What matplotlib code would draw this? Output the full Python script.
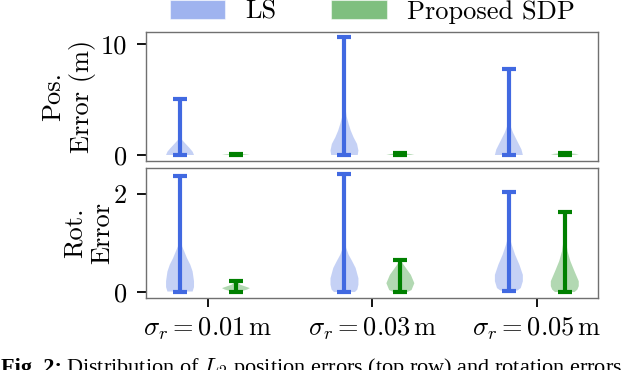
import matplotlib
matplotlib.use("Agg")
import matplotlib.pyplot as plt
from matplotlib.patches import Patch
import numpy as np

plt.rcParams['font.family'] = ['cmr10', 'DejaVu Serif']
plt.rcParams['mathtext.fontset'] = 'cm'
plt.rcParams['axes.formatter.use_mathtext'] = True
plt.rcParams['axes.unicode_minus'] = False

# ---------------- data ----------------
categories = [r'$\sigma_r = 0.01\,\mathrm{m}$', r'$\sigma_r = 0.03\,\mathrm{m}$', r'$\sigma_r = 0.05\,\mathrm{m}$']
series_names = ['LS', 'Proposed SDP']

# Position error (m): min / max of each violin, and density profile (value, relative width)
pos_ls_min = [0.0, 0.0, 0.0]
pos_ls_max = [5.07, 10.66, 7.72]
pos_ls_coords = [
    [0.0, 0.3, 0.6, 1.05, 1.4, 2.0, 3.0, 4.0, 5.07],
    [0.0, 0.4, 1.0, 1.6, 2.2, 2.8, 3.5, 4.2, 6.0, 8.0, 10.66],
    [0.0, 0.5, 1.0, 1.5, 2.0, 2.6, 3.5, 5.0, 7.72],
]
pos_ls_dens = [
    [1.0, 0.9, 0.7, 0.37, 0.12, 0.05, 0.03, 0.02, 0.0],
    [0.95, 1.0, 0.9, 0.65, 0.45, 0.3, 0.15, 0.08, 0.03, 0.01, 0.0],
    [1.0, 0.9, 0.7, 0.5, 0.3, 0.12, 0.04, 0.02, 0.0],
]
pos_sdp_min = [0.0, 0.0, 0.0]
pos_sdp_max = [0.12, 0.18, 0.2]
pos_sdp_coords = [
    [0.0, 0.03, 0.06, 0.09, 0.12],
    [0.0, 0.04, 0.08, 0.13, 0.18],
    [0.0, 0.05, 0.1, 0.15, 0.2],
]
pos_sdp_dens = [
    [0.6, 1.0, 0.8, 0.4, 0.1],
    [0.6, 1.0, 0.8, 0.4, 0.1],
    [0.6, 1.0, 0.8, 0.4, 0.1],
]

# Rotation error
rot_ls_min = [0.01, 0.0, 0.03]
rot_ls_max = [2.37, 2.41, 2.05]
rot_ls_coords = [
    [0.01, 0.1, 0.22, 0.42, 0.56, 0.69, 0.83, 0.93, 1.17, 1.86, 2.37],
    [0.0, 0.05, 0.15, 0.28, 0.49, 0.63, 0.76, 0.9, 1.17, 1.8, 2.41],
    [0.03, 0.08, 0.22, 0.35, 0.56, 0.76, 0.97, 1.1, 1.5, 2.05],
]
rot_ls_dens = [
    [0.9, 1.0, 1.0, 0.9, 0.73, 0.5, 0.3, 0.15, 0.07, 0.03, 0.0],
    [0.75, 0.92, 1.0, 1.0, 0.8, 0.55, 0.3, 0.12, 0.05, 0.02, 0.0],
    [0.6, 0.85, 1.0, 1.0, 0.75, 0.45, 0.2, 0.08, 0.03, 0.0],
]
rot_sdp_min = [0.01, 0.0, 0.0]
rot_sdp_max = [0.22, 0.66, 1.63]
rot_sdp_coords = [
    [0.01, 0.05, 0.08, 0.11, 0.15, 0.22],
    [0.0, 0.04, 0.18, 0.35, 0.49, 0.59, 0.66],
    [0.0, 0.05, 0.12, 0.22, 0.42, 0.63, 0.83, 1.03, 1.3, 1.63],
]
rot_sdp_dens = [
    [0.3, 0.8, 1.0, 0.7, 0.3, 0.02],
    [0.5, 0.8, 1.0, 0.75, 0.4, 0.15, 0.03],
    [0.7, 0.9, 1.0, 1.0, 0.7, 0.4, 0.2, 0.1, 0.05, 0.0],
]

ls_color = '#4169E1'
sdp_color = '#008000'
FS = 19


def make_stats(mins, maxs, coords, dens):
    out = []
    for mn, mx, c, d in zip(mins, maxs, coords, dens):
        c = np.asarray(c, float)
        d = np.asarray(d, float)
        out.append(dict(coords=c, vals=d, mean=float(np.mean(c)),
                        median=float(np.median(c)), min=mn, max=mx))
    return out


def draw(ax, stats, positions, color):
    parts = ax.violin(stats, positions=positions, widths=0.17,
                      showmeans=False, showmedians=False, showextrema=True)
    for b in parts['bodies']:
        b.set_facecolor(color)
        b.set_edgecolor('none')
        b.set_alpha(0.3)
    for k in ('cmaxes', 'cmins', 'cbars'):
        parts[k].set_color(color)
        parts[k].set_linewidth(3.0)
        parts[k].set_capstyle('butt')


fig = plt.figure(figsize=(6.38, 3.70), dpi=100)
L, R = 146 / 638, 598 / 638
ax1 = fig.add_axes([L, 1 - 161 / 370, R - L, (161 - 32) / 370])
ax2 = fig.add_axes([L, 1 - 298 / 370, R - L, (298 - 168) / 370], sharex=ax1)

g = np.arange(len(categories))
off = 0.17
draw(ax1, make_stats(pos_ls_min, pos_ls_max, pos_ls_coords, pos_ls_dens), g - off, ls_color)
draw(ax1, make_stats(pos_sdp_min, pos_sdp_max, pos_sdp_coords, pos_sdp_dens), g + off, sdp_color)
draw(ax2, make_stats(rot_ls_min, rot_ls_max, rot_ls_coords, rot_ls_dens), g - off, ls_color)
draw(ax2, make_stats(rot_sdp_min, rot_sdp_max, rot_sdp_coords, rot_sdp_dens), g + off, sdp_color)

ax1.set_xlim(-0.377, 2.372)
ax1.set_ylim(-0.54, 11.08)
ax2.set_ylim(-0.122, 2.53)
ax1.set_yticks([0, 10])
ax1.set_yticklabels(['0', '10'])
ax2.set_yticks([0, 2])
ax2.set_yticklabels(['0', '2'])
ax2.set_xticks(g)
ax2.set_xticklabels(categories)
ax1.tick_params(axis='x', which='both', bottom=False, labelbottom=False)

for ax in (ax1, ax2):
    for s in ax.spines.values():
        s.set_color('#707070')
        s.set_linewidth(1.0)
    ax.tick_params(axis='both', labelsize=FS, length=6.5, width=1.3, color='black')
    ax.tick_params(axis='y', pad=7)
ax2.tick_params(axis='x', pad=6)

ax1.set_ylabel('Pos.\nError (m)', fontsize=FS, multialignment='center', linespacing=1.2)
ax2.set_ylabel('Rot.\nError', fontsize=FS, multialignment='center', linespacing=1.2)
ax1.yaxis.set_label_coords((96 - 146) / 452, 0.5)
ax2.yaxis.set_label_coords((114 - 146) / 452, 0.5)

handles = [Patch(facecolor=ls_color, alpha=0.5, edgecolor='white', linewidth=0.8),
           Patch(facecolor=sdp_color, alpha=0.5, edgecolor='white', linewidth=0.8)]
fig.legend(handles, series_names, loc='center', bbox_to_anchor=(372 / 638, 1 - 12 / 370),
           ncol=2, frameon=False, fontsize=FS, handlelength=2.1, handleheight=0.75,
           handletextpad=0.75, columnspacing=2.1, borderaxespad=0, borderpad=0)

# partially visible caption beneath the figure
cap_y = 1 - 373 / 370
t1 = fig.text(0.002, cap_y, 'Fig. 2:', fontsize=16, family='Liberation Serif',
              fontweight='bold', va='baseline', ha='left')
fig.canvas.draw()
bb = t1.get_window_extent()
x2 = (bb.x1 + 4) / fig.bbox.width
fig.text(x2, cap_y,
         r'Distribution of $L_2$ position errors (top row) and rotation errors',
         fontsize=16, family='Liberation Serif', va='baseline', ha='left')

fig.savefig('out.png', dpi=100)
